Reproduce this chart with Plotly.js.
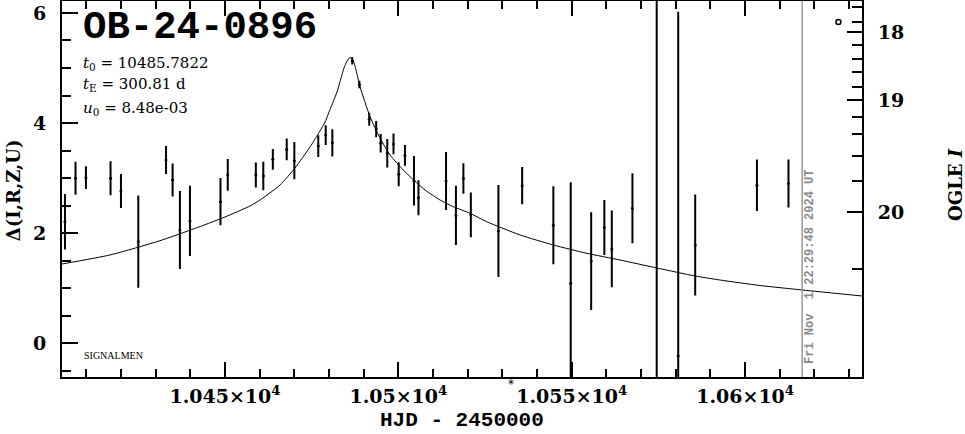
<!DOCTYPE html>
<html>
<head>
<meta charset="utf-8">
<script src="https://cdn.plot.ly/plotly-3.0.1.min.js"></script>
<style>html,body{margin:0;padding:0;background:#fff;}#chart{width:965px;height:434px;}</style>
</head>
<body>
<div id="chart"></div>
<script>
// Observations: HJD - 2450000, Delta magnitude, error
const obsHJD = [10403.85, 10406.9, 10409.9, 10417.0, 10420.0, 10425.0, 10433.0, 10434.9, 10437.0, 10439.9,
  10448.7, 10450.8, 10458.9, 10461.05, 10463.8, 10467.8, 10470.0, 10476.9, 10479.05, 10480.96,
  10486.7, 10488.75, 10491.6, 10493.6, 10494.9, 10496.8, 10498.6, 10500.1, 10501.9, 10504.5,
  10505.8, 10513.75, 10516.6, 10518.75, 10520.9, 10528.85, 10535.7, 10544.7, 10549.7, 10555.6,
  10559.4, 10561.55, 10567.5, 10574.5, 10580.7, 10585.6, 10603.4, 10612.5];
const obsDelta = [2.205, 2.995, 3.006, 2.995, 2.764, 1.842, 3.327, 2.964, 2.055, 2.22,
  2.57, 3.055, 3.055, 3.036, 3.34, 3.52, 3.315, 3.58, 3.78, 3.64,
  5.13, 4.70, 4.067, 3.89, 3.63, 3.45, 3.62, 3.07, 3.41, 2.95,
  2.64, 2.945, 2.32, 2.99, 2.33, 2.036, 2.86, 2.14, 1.085, 1.49,
  2.10, 1.71, 2.45, -1.2, -0.236, 1.78, 2.87, 2.90];
const obsErr = [0.485, 0.28, 0.19, 0.29, 0.29, 0.82, 0.236, 0.28, 0.69, 0.62,
  0.41, 0.27, 0.21, 0.24, 0.17, 0.18, 0.32, 0.18, 0.16, 0.23,
  0.05, 0.05, 0.10, 0.13, 0.15, 0.24, 0.17, 0.20, 0.17, 0.43,
  0.30, 0.51, 0.52, 0.26, 0.39, 0.82, 0.32, 0.69, 1.82, 0.87,
  0.48, 0.68, 0.62, 7.6, 6.24, 0.9, 0.45, 0.42];

// Model light curve
const modelHJD = [10402.98, 10416.83, 10424.90, 10431.25, 10439.90, 10445.67, 10450.0, 10457.21, 10460.10, 10465.87,
  10470.19, 10474.52, 10477.40, 10478.85, 10480.58, 10482.31, 10483.17, 10484.33, 10485.19, 10486.06,
  10486.93, 10487.79, 10488.94, 10491.83, 10494.71, 10497.60, 10501.43, 10503.86, 10507.69, 10512.02,
  10515.86, 10520.67, 10525.49, 10535.10, 10544.70, 10554.34, 10563.94, 10574.53, 10585.58, 10592.79,
  10604.33, 10616.53, 10633.66];
const modelDelta = [1.436, 1.60, 1.74, 1.86, 2.05, 2.185, 2.291, 2.491, 2.6, 2.873,
  3.182, 3.564, 3.855, 4.018, 4.291, 4.564, 4.751, 5.0, 5.127, 5.191,
  5.145, 4.964, 4.66, 4.115, 3.727, 3.418, 3.145, 2.995, 2.782, 2.6,
  2.478, 2.358, 2.205, 1.964, 1.782, 1.631, 1.509, 1.364, 1.218, 1.145,
  1.045, 0.964, 0.855];

// Bottom axis tick labels
const xTickVals = [10450, 10500, 10550, 10600];
const xTickText = ['1.045×10<sup>4</sup>', '1.05×10<sup>4</sup>', '1.055×10<sup>4</sup>', '1.06×10<sup>4</sup>'];
// Right axis (OGLE I magnitude) ticks, expressed on the Delta scale
const ogleLabels = ['18', '19', '20'];
const ogleLabelDelta = [5.655, 4.418, 2.382];
const ogleMinorDelta = [6.109, 5.836, 5.418, 5.164, 4.927, 4.655, 4.109, 3.80, 3.40, 2.945, 1.345];

// Extra markers
const nowHJD = 10616.44;
const baseMarkHJD = [10626.9];
const baseMarkDelta = [5.836];
const starHJD = 10532.5;

const eventName = 'OB-24-0896';
const paramLines = ['<i>t</i><sub>0</sub> = 10485.7822', '<i>t</i><sub>E</sub> = 300.81 d', '<i>u</i><sub>0</sub> = 8.48e-03'];
const stampText = 'Fri Nov\u00a0 1 22:29:48 2024 UT';

const yRange = [-0.618, 6.218];
const xRange = [10403.0, 10633.7];

const serifB = {family: 'DejaVu Serif', size: 19, color: '#000', weight: 'bold'};

const traces = [
  {
    x: modelHJD, y: modelDelta, type: 'scatter', mode: 'lines',
    line: {color: '#000', width: 1, shape: 'spline', smoothing: 0.6},
    hoverinfo: 'skip', showlegend: false
  },
  {
    x: obsHJD, y: obsDelta, type: 'scatter', mode: 'markers',
    marker: {color: '#000', size: 3},
    error_y: {type: 'data', array: obsErr, visible: true, color: '#000', thickness: 2, width: 1},
    showlegend: false
  },
  {
    x: baseMarkHJD, y: baseMarkDelta, type: 'scatter', mode: 'markers',
    marker: {symbol: 'circle-open', size: 5, color: '#000', line: {width: 1.5, color: '#000'}},
    showlegend: false
  },
  {
    x: [xRange[0]], y: [yRange[0]], yaxis: 'y2', type: 'scatter', mode: 'markers',
    marker: {opacity: 0}, showlegend: false, hoverinfo: 'skip'
  }
];

const annotations = [
  {text: eventName, xref: 'paper', yref: 'paper', x: 0.0235, y: 0.928, xanchor: 'left', yanchor: 'middle',
   showarrow: false, font: {family: 'Liberation Mono', size: 39, color: '#000', weight: 'bold'}},
  {text: 'SIGNALMEN', xref: 'paper', yref: 'paper', x: 0.025, y: 0.0585, xanchor: 'left', yanchor: 'middle',
   showarrow: false, font: {family: 'Liberation Serif', size: 10, color: '#000'}},
  {text: 'HJD - 2450000', xref: 'paper', yref: 'paper', x: 0.5, y: -0.116, xanchor: 'center', yanchor: 'middle',
   showarrow: false, font: {family: 'Liberation Mono', size: 21, color: '#000', weight: 'bold'}},
  {text: 'Δ(I,R,Z,U)', xref: 'paper', yref: 'paper', x: -0.06125, y: 0.497, xanchor: 'center', yanchor: 'middle',
   textangle: -90, showarrow: false, font: {family: 'DejaVu Serif', size: 18, color: '#000', weight: 'bold'}},
  {text: 'OGLE <i>I</i>', xref: 'paper', yref: 'paper', x: 1.116, y: 0.513, xanchor: 'center', yanchor: 'middle',
   textangle: -90, showarrow: false, font: {family: 'DejaVu Serif', size: 18, color: '#000', weight: 'bold'}},
  {text: stampText, xref: 'paper', yref: 'paper', x: 0.935, y: 0.2926, xanchor: 'center', yanchor: 'middle',
   textangle: -90, showarrow: false, font: {family: 'Liberation Mono', size: 12, color: '#888', weight: 'bold'}},
  {text: '*', xref: 'x', yref: 'paper', x: starHJD, y: -0.018, xanchor: 'center', yanchor: 'middle',
   showarrow: false, font: {family: 'DejaVu Sans', size: 12, color: '#000'}}
];
paramLines.forEach((txt, i) => {
  annotations.push({text: txt, xref: 'paper', yref: 'paper', x: 0.0235, y: [0.835, 0.777, 0.715][i],
    xanchor: 'left', yanchor: 'middle', showarrow: false,
    font: {family: 'DejaVu Serif', size: 15, color: '#000'}});
});

const layout = {
  width: 965, height: 434,
  margin: {l: 62, r: 103, t: 1, b: 57, pad: 0},
  paper_bgcolor: '#fff', plot_bgcolor: '#fff',
  showlegend: false,
  xaxis: {
    range: xRange, tickmode: 'array', tickvals: xTickVals, ticktext: xTickText,
    ticks: 'inside', ticklen: 15, tickwidth: 2, tickcolor: '#000',
    minor: {tickmode: 'linear', tick0: 10400, dtick: 10, ticks: 'inside', ticklen: 8, tickwidth: 2, tickcolor: '#000'},
    showline: true, linewidth: 2, linecolor: '#000', mirror: 'ticks',
    showgrid: false, zeroline: false, tickfont: serifB, ticklabelstandoff: 1
  },
  yaxis: {
    range: yRange, tickmode: 'linear', tick0: 0, dtick: 2,
    ticks: 'inside', ticklen: 16, tickwidth: 2, tickcolor: '#000',
    minor: {tickmode: 'linear', tick0: 0, dtick: 0.5, ticks: 'inside', ticklen: 9, tickwidth: 2, tickcolor: '#000'},
    showline: true, linewidth: 2, linecolor: '#000', mirror: false,
    showgrid: false, zeroline: false, tickfont: serifB, ticklabelstandoff: 10
  },
  yaxis2: {
    range: yRange, overlaying: 'y', side: 'right', anchor: 'x',
    tickmode: 'array', tickvals: ogleLabelDelta, ticktext: ogleLabels,
    ticks: 'inside', ticklen: 15, tickwidth: 2, tickcolor: '#000',
    minor: {tickmode: 'array', tickvals: ogleMinorDelta, ticks: 'inside', ticklen: 10, tickwidth: 2, tickcolor: '#000'},
    showline: true, linewidth: 2, linecolor: '#000',
    showgrid: false, zeroline: false, tickfont: serifB, ticklabelstandoff: 10
  },
  shapes: [
    {type: 'line', xref: 'x', yref: 'paper', x0: nowHJD, x1: nowHJD, y0: 0, y1: 1,
     line: {color: '#999', width: 1.5}, layer: 'above'}
  ],
  annotations: annotations
};

Plotly.newPlot('chart', traces, layout, {staticPlot: true, displayModeBar: false});
</script>
</body>
</html>
